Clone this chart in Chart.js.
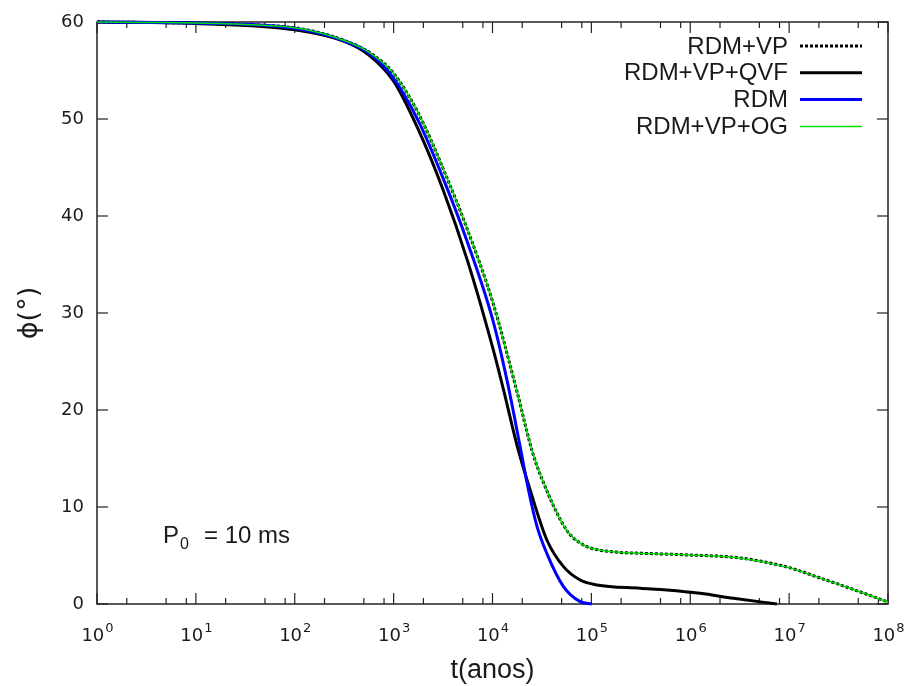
<!DOCTYPE html>
<html>
<head>
<meta charset="utf-8">
<script src="https://cdn.jsdelivr.net/npm/chart.js@4.4.1/dist/chart.umd.min.js"></script>
<style>
  body { margin: 0; background: #fff; }
</style>
</head>
<body>
<canvas id="phiChart" width="907" height="686"></canvas>
<script>
// curves: log10(t in years) and phi in degrees
const logT_VP = [0, 0.5, 1, 1.5, 2, 2.25, 2.5, 2.75, 3.0, 3.25, 3.5, 3.75, 4.0, 4.25, 4.4, 4.5, 4.75, 4.9, 5.0, 5.25, 5.5, 6.0, 6.5, 7.0, 7.28, 7.617, 8.0];
const phi_VP = [60, 59.95, 59.9, 59.75, 59.4, 58.9, 58.1, 56.9, 54.7, 50.6, 44.9, 38.5, 31.2, 21.8, 15.8, 12.9, 7.6, 6.2, 5.75, 5.35, 5.23, 5.05, 4.75, 3.75, 2.8, 1.62, 0.2];

const logT_QVF = [0, 1, 2, 2.5, 2.75, 3.0, 3.25, 3.5, 3.75, 4.0, 4.111, 4.252, 4.381, 4.55, 4.718, 4.887, 5.056, 5.494, 5.763, 6.1, 6.437, 6.876];
const phi_QVF = [60, 59.85, 59.2, 58.0, 56.6, 53.9, 48.9, 42.7, 35.3, 26.5, 22.1, 16.2, 11.75, 6.6, 3.85, 2.47, 1.96, 1.62, 1.44, 1.1, 0.59, 0.0];

const logT_RDM = [0, 1, 2, 2.5, 2.75, 3.0, 3.25, 3.5, 3.75, 4.0, 4.146, 4.28, 4.364, 4.45, 4.55, 4.718, 4.887, 5.005];
const phi_RDM = [60, 59.9, 59.35, 58.05, 56.8, 54.2, 49.8, 43.9, 37.2, 29.4, 23.1, 16.2, 11.75, 8.0, 5.2, 1.8, 0.24, 0];

// RDM+VP+OG lies right on top of RDM+VP
const logT_OG = logT_VP;
const phi_OG = phi_VP;

const xTickExp = [0, 1, 2, 3, 4, 5, 6, 7, 8];
const xMinorMult = [2, 5, 8];
const yTicks = [0, 10, 20, 30, 40, 50, 60];

const legendItems = [
  { label: "RDM+VP", color: "#000", width: 3, dash: [3, 2] },
  { label: "RDM+VP+QVF", color: "#000", width: 3, dash: [] },
  { label: "RDM", color: "#0000ff", width: 3, dash: [] },
  { label: "RDM+VP+OG", color: "#00dd00", width: 1.5, dash: [] },
];

function toPoints(logs, vals) {
  return logs.map((e, i) => ({ x: Math.pow(10, e), y: vals[i] }));
}

const frameColor = "#222";
const textColor = "#1a1a1a";

const gnuplotLook = {
  id: "gnuplotLook",
  beforeDatasetsDraw(chart) {
    const { ctx, chartArea: a, scales } = chart;
    const x = scales.x, y = scales.y;
    ctx.save();
    ctx.strokeStyle = frameColor;
    ctx.lineWidth = 1.5;
    ctx.strokeRect(a.left, a.top, a.right - a.left, a.bottom - a.top);

    function seg(x1, y1, x2, y2) {
      ctx.beginPath();
      ctx.moveTo(x1, y1);
      ctx.lineTo(x2, y2);
      ctx.stroke();
    }
    ctx.lineWidth = 1.2;
    xTickExp.forEach((e) => {
      const px = x.getPixelForValue(Math.pow(10, e));
      seg(px, a.bottom, px, a.bottom - 11);
      seg(px, a.top, px, a.top + 11);
      if (e < 8) {
        xMinorMult.forEach((m) => {
          const p = x.getPixelForValue(m * Math.pow(10, e));
          seg(p, a.bottom, p, a.bottom - 6);
          seg(p, a.top, p, a.top + 6);
        });
      }
    });
    yTicks.forEach((v) => {
      const py = y.getPixelForValue(v);
      seg(a.left, py, a.left + 11, py);
      seg(a.right, py, a.right - 11, py);
    });
    ctx.restore();
  },
  afterDraw(chart) {
    const { ctx, chartArea: a, scales } = chart;
    const x = scales.x, y = scales.y;
    ctx.save();
    ctx.fillStyle = textColor;

    // y tick labels
    ctx.font = "18px 'DejaVu Sans'";
    ctx.textAlign = "right";
    ctx.textBaseline = "middle";
    yTicks.forEach((v) => {
      ctx.fillText(String(v), a.left - 13, y.getPixelForValue(v));
    });

    // x tick labels 10^n
    ctx.textAlign = "left";
    ctx.textBaseline = "alphabetic";
    xTickExp.forEach((e) => {
      const px = x.getPixelForValue(Math.pow(10, e));
      ctx.font = "18px 'DejaVu Sans'";
      const wBase = ctx.measureText("10").width;
      ctx.font = "13px 'DejaVu Sans'";
      const wExp = ctx.measureText(String(e)).width;
      const left = px - (wBase + wExp) / 2;
      ctx.font = "18px 'DejaVu Sans'";
      ctx.fillText("10", left, a.bottom + 37);
      ctx.font = "13px 'DejaVu Sans'";
      ctx.fillText(String(e), left + wBase + 1, a.bottom + 28);
    });

    // axis titles
    ctx.font = "27px 'Liberation Sans'";
    ctx.textAlign = "center";
    ctx.textBaseline = "middle";
    ctx.fillText("t(anos)", (a.left + a.right) / 2, 671);
    ctx.save();
    ctx.translate(30, (a.top + a.bottom) / 2);
    ctx.rotate(-Math.PI / 2);
    ctx.font = "27px 'DejaVu Sans'";
    ctx.fillText("\u03d5(\u00b0)", 0, 0);
    ctx.restore();

    // annotation P0 = 10 ms
    ctx.textAlign = "left";
    ctx.textBaseline = "alphabetic";
    ctx.font = "24px 'Liberation Sans'";
    ctx.fillText("P", 163, 543);
    ctx.font = "16px 'Liberation Sans'";
    ctx.fillText("0", 180, 549);
    ctx.font = "24px 'Liberation Sans'";
    ctx.fillText("= 10 ms", 204, 543);

    // key, gnuplot style: text right-aligned, sample on the right
    ctx.font = "24px 'Liberation Sans'";
    ctx.textAlign = "right";
    ctx.textBaseline = "middle";
    legendItems.forEach((it, i) => {
      const ly = 46 + i * 26.8;
      ctx.fillStyle = textColor;
      ctx.fillText(it.label, 788, ly + 1);
      ctx.strokeStyle = it.color;
      ctx.lineWidth = it.width;
      ctx.setLineDash(it.dash);
      ctx.beginPath();
      ctx.moveTo(800, ly);
      ctx.lineTo(862, ly);
      ctx.stroke();
      ctx.setLineDash([]);
    });
    ctx.restore();
  },
};

const ctx = document.getElementById("phiChart").getContext("2d");
new Chart(ctx, {
  type: "line",
  data: {
    datasets: [
      {
        label: "RDM+VP",
        data: toPoints(logT_VP, phi_VP),
        borderColor: "#000",
        borderWidth: 3,
        borderDash: [3, 2],
        order: 4,
      },
      {
        label: "RDM+VP+QVF",
        data: toPoints(logT_QVF, phi_QVF),
        borderColor: "#000",
        borderWidth: 3,
        order: 3,
      },
      {
        label: "RDM",
        data: toPoints(logT_RDM, phi_RDM),
        borderColor: "#0000ff",
        borderWidth: 3,
        order: 2,
      },
      {
        label: "RDM+VP+OG",
        data: toPoints(logT_OG, phi_OG),
        borderColor: "#00dd00",
        borderWidth: 1.5,
        order: 1,
      },
    ],
  },
  options: {
    responsive: false,
    animation: false,
    layout: { padding: { left: 97, right: 19, top: 22, bottom: 82 } },
    elements: {
      point: { radius: 0 },
      line: { cubicInterpolationMode: "monotone", fill: false },
    },
    datasets: { line: { clip: 4 } },
    plugins: { legend: { display: false }, tooltip: { enabled: false } },
    scales: {
      x: { type: "logarithmic", min: 1, max: 1e8, display: false },
      y: { type: "linear", min: 0, max: 60, display: false },
    },
  },
  plugins: [gnuplotLook],
});
</script>
</body>
</html>
